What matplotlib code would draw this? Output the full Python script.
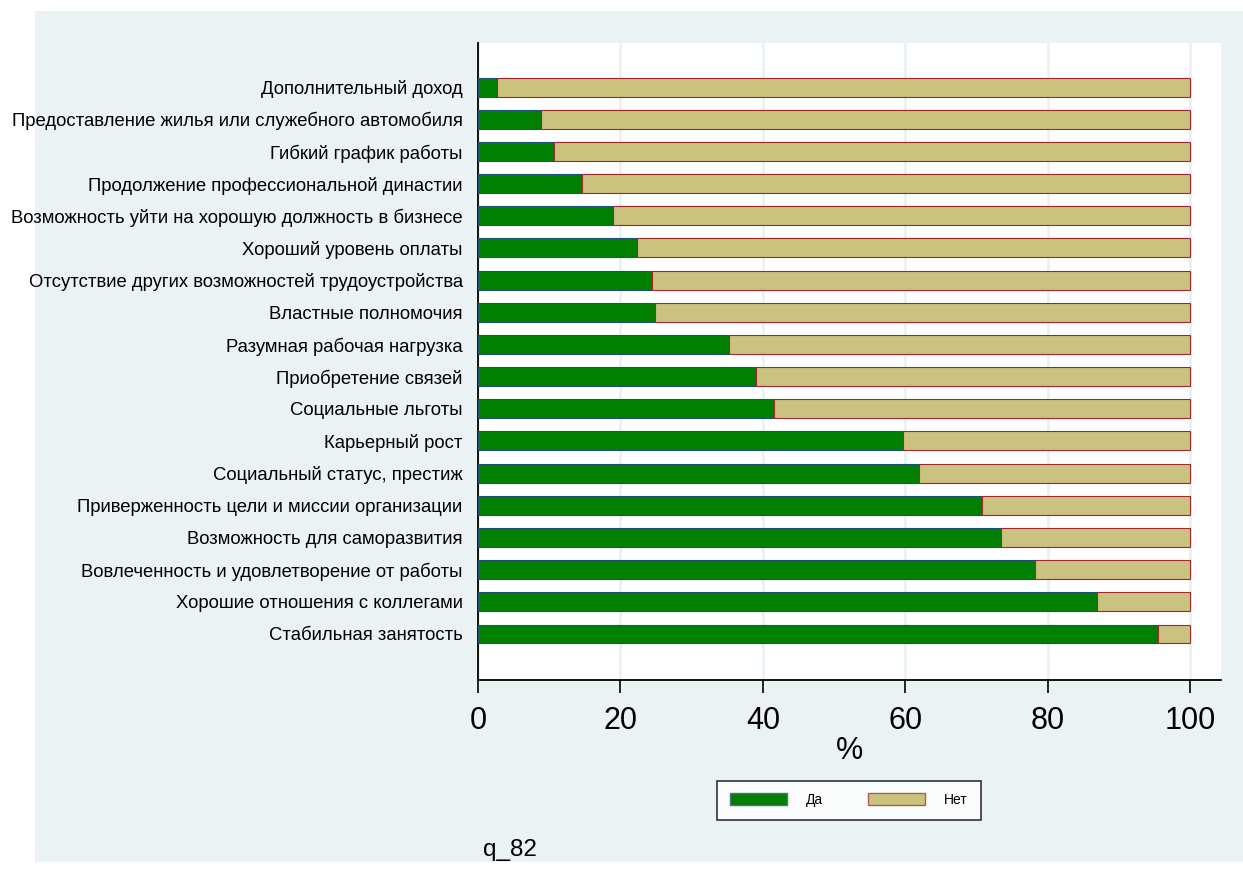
import numpy as np
import matplotlib
matplotlib.use('Agg')
import matplotlib.pyplot as plt
from matplotlib.patches import Patch

# Categorías (de arriba hacia abajo) y porcentaje de "Да"
categorias = [
    'Дополнительный доход',
    'Предоставление жилья или служебного автомобиля',
    'Гибкий график работы',
    'Продолжение профессиональной династии',
    'Возможность уйти на хорошую должность в бизнесе',
    'Хороший уровень оплаты',
    'Отсутствие других возможностей трудоустройства',
    'Властные полномочия',
    'Разумная рабочая нагрузка',
    'Приобретение связей',
    'Социальные льготы',
    'Карьерный рост',
    'Социальный статус, престиж',
    'Приверженность цели и миссии организации',
    'Возможность для саморазвития',
    'Вовлеченность и удовлетворение от работы',
    'Хорошие отношения с коллегами',
    'Стабильная занятость',
]
da = [2.6, 8.8, 10.6, 14.6, 19.0, 22.3, 24.4, 24.8, 35.3, 39.0,
      41.5, 59.7, 61.9, 70.8, 73.4, 78.2, 86.9, 95.5]
net = [100 - v for v in da]
ticks_x = [0, 20, 40, 60, 80, 100]
leyenda = ['Да', 'Нет']

fondo = '#eaf2f3'
verde = '#008000'
caqui = '#cbc27f'

plt.rcParams['font.family'] = ['Liberation Sans', 'DejaVu Sans']

fig = plt.figure(figsize=(12.43, 8.91), dpi=100)
fig.patch.set_facecolor('white')
# recuadro celeste de fondo
fig.patches.append(plt.Rectangle((35 / 1243, 1 - 862 / 891), 1 - 35 / 1243, (862 - 11) / 891,
                                 transform=fig.transFigure, facecolor=fondo,
                                 edgecolor='none', zorder=-10))

ax = fig.add_axes([478 / 1243, 1 - 680 / 891, (1221 - 478) / 1243, (680 - 43) / 891])
ax.set_facecolor('white')

y = np.arange(len(categorias))
ax.barh(y, da, height=0.59, color=verde, edgecolor='#1f4e79', linewidth=0.8, zorder=3)
ax.barh(y, net, left=da, height=0.59, color=caqui, edgecolor='#a0282d', linewidth=0.8, zorder=3)

ax.set_ylim(len(categorias) - 1 + 1.43, -1.37)
ax.set_xlim(0, 104.3)
ax.set_yticks(y)
ax.set_yticklabels(categorias, fontsize=13.3)
ax.tick_params(axis='y', length=0, pad=11)
ax.set_xticks(ticks_x)
ax.set_xticklabels([str(t) for t in ticks_x], fontsize=22)
ax.tick_params(axis='x', length=9, width=1.2, pad=10, direction='out')
ax.grid(axis='x', color=fondo, linewidth=2, zorder=0)

ax.spines['top'].set_visible(False)
ax.spines['right'].set_visible(False)
ax.spines['left'].set_linewidth(1.3)
ax.spines['bottom'].set_linewidth(1.3)

ax.set_xlabel('%', fontsize=22, labelpad=0)

manijas = [Patch(facecolor=verde, edgecolor='#4a6f8a', linewidth=1),
           Patch(facecolor=caqui, edgecolor='#b05a5a', linewidth=1)]
leg = fig.legend(manijas, leyenda, loc='center', bbox_to_anchor=(849 / 1243, 1 - 800 / 891),
                 ncol=2, fontsize=10, frameon=True, fancybox=False, edgecolor='black',
                 handlelength=4.1, handleheight=1.0, handletextpad=1.4,
                 columnspacing=3.2, borderpad=0.9)
leg.get_frame().set_linewidth(1.2)

fig.text(483 / 1243, 1 - 850 / 891, 'q_82', fontsize=17.5, va='center', ha='left')

fig.savefig('out.png', dpi=100, facecolor=fig.get_facecolor())
